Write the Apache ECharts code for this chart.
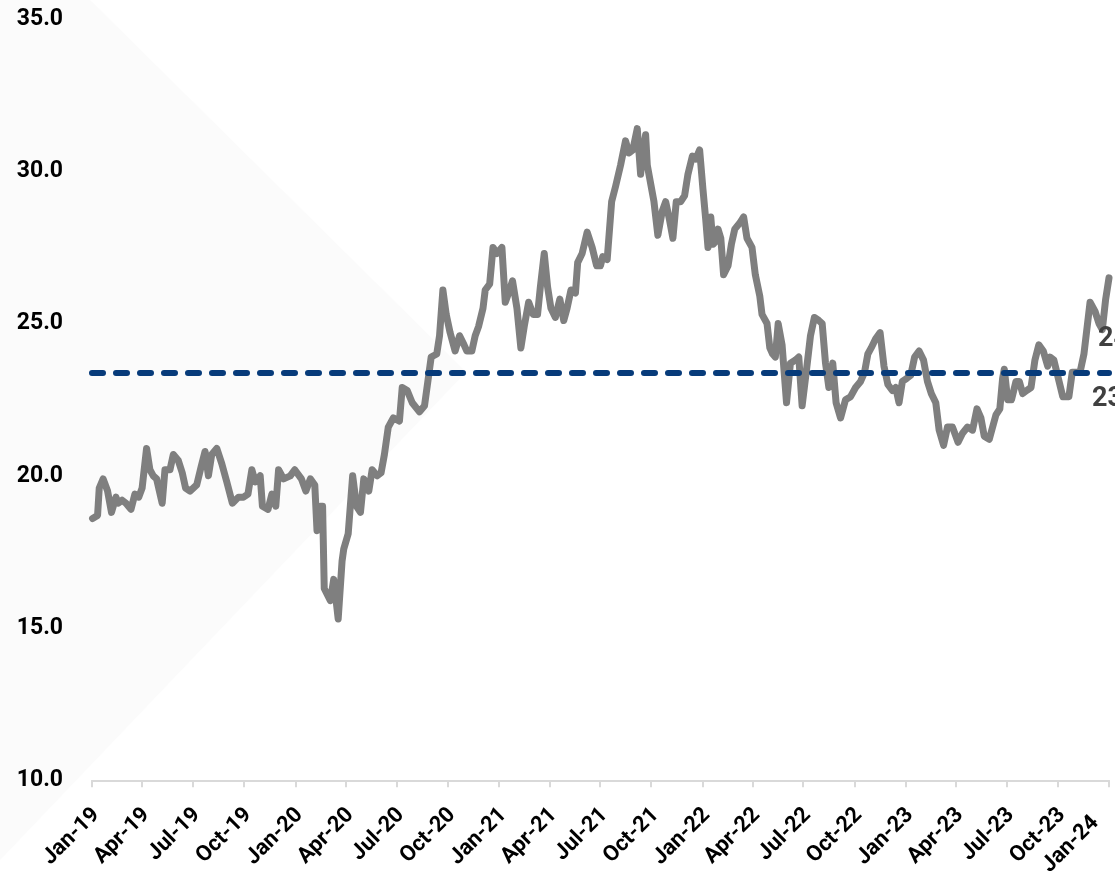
<!DOCTYPE html>
<html>
<head>
<meta charset="utf-8">
<script src="https://cdn.jsdelivr.net/npm/echarts@6/dist/echarts.min.js"></script>
<style>
  html, body { margin: 0; padding: 0; width: 1115px; height: 879px; background: #ffffff; overflow: hidden; }
  #chart { position: absolute; left: 0; top: 0; width: 1115px; height: 879px; }
</style>
</head>
<body>
<div id="chart"></div>
<script>
// Weekly valuation multiple, Jan 2019 – Jan 2024
const dates = [
  '2019-01-02','2019-01-11','2019-01-14','2019-01-21','2019-01-29','2019-02-05','2019-02-13','2019-02-17','2019-02-24',
  '2019-03-03','2019-03-12','2019-03-19','2019-03-26','2019-04-01','2019-04-09','2019-04-15','2019-04-21','2019-04-27',
  '2019-05-07','2019-05-12','2019-05-21','2019-05-27','2019-06-05','2019-06-12','2019-06-18','2019-06-26','2019-07-08',
  '2019-07-16','2019-07-23','2019-07-29','2019-08-04','2019-08-13','2019-08-22','2019-08-31','2019-09-10','2019-09-21',
  '2019-09-30','2019-10-08','2019-10-15','2019-10-21','2019-10-30','2019-11-03','2019-11-13','2019-11-20','2019-11-27',
  '2019-12-02','2019-12-11','2019-12-23','2019-12-31',
  '2020-01-12','2020-01-20','2020-01-28','2020-02-05','2020-02-09','2020-02-15','2020-02-19','2020-02-22','2020-03-04',
  '2020-03-10','2020-03-18','2020-03-25','2020-03-28','2020-04-05','2020-04-13','2020-04-20','2020-04-27','2020-05-03',
  '2020-05-12','2020-05-18','2020-05-27','2020-06-03','2020-06-09','2020-06-16','2020-06-25','2020-07-06','2020-07-11',
  '2020-07-20','2020-07-29','2020-08-11','2020-08-20','2020-08-26','2020-09-01','2020-09-11','2020-09-16','2020-09-22',
  '2020-09-28','2020-10-05','2020-10-14','2020-10-22','2020-10-30','2020-11-04','2020-11-13','2020-11-19','2020-11-25',
  '2020-12-03','2020-12-07','2020-12-15','2020-12-21','2020-12-28',
  '2021-01-06','2021-01-12','2021-01-18','2021-01-25','2021-02-02','2021-02-09','2021-02-15','2021-02-23','2021-03-03',
  '2021-03-11','2021-03-16','2021-03-23','2021-03-29','2021-04-04','2021-04-12','2021-04-20','2021-04-27','2021-05-03',
  '2021-05-10','2021-05-18','2021-05-22','2021-05-30','2021-06-08','2021-06-17','2021-06-25','2021-07-02','2021-07-06',
  '2021-07-14','2021-07-22','2021-07-29','2021-08-07','2021-08-16','2021-08-22','2021-08-29','2021-09-06','2021-09-12',
  '2021-09-16','2021-09-21','2021-09-24','2021-09-28','2021-10-06','2021-10-13','2021-10-21','2021-10-27','2021-11-03',
  '2021-11-09','2021-11-15','2021-11-23','2021-11-30','2021-12-06','2021-12-14','2021-12-20','2021-12-27',
  '2022-01-02','2022-01-07','2022-01-11','2022-01-16','2022-01-20','2022-01-25','2022-01-29','2022-02-03','2022-02-08',
  '2022-02-16','2022-02-22','2022-02-28','2022-03-09','2022-03-16','2022-03-22','2022-03-31','2022-04-06','2022-04-14',
  '2022-04-18','2022-04-27','2022-05-02','2022-05-07','2022-05-12','2022-05-17','2022-05-24','2022-06-01','2022-06-08',
  '2022-06-17','2022-06-23','2022-06-29','2022-07-07','2022-07-14','2022-07-21','2022-07-29','2022-08-04','2022-08-10',
  '2022-08-16','2022-08-23','2022-08-29','2022-09-06','2022-09-15','2022-09-24','2022-10-03','2022-10-12','2022-10-19',
  '2022-10-25','2022-10-31','2022-11-08','2022-11-16','2022-11-23','2022-11-30','2022-12-08','2022-12-14','2022-12-20',
  '2022-12-26',
  '2023-01-03','2023-01-10','2023-01-17','2023-01-25','2023-02-02','2023-02-09','2023-02-16','2023-02-24','2023-03-02',
  '2023-03-10','2023-03-17','2023-03-26','2023-04-05','2023-04-13','2023-04-22','2023-05-01','2023-05-09','2023-05-16',
  '2023-05-22','2023-05-31','2023-06-06','2023-06-12','2023-06-19','2023-06-24','2023-06-27','2023-07-03','2023-07-10',
  '2023-07-18','2023-07-24','2023-07-30','2023-08-06','2023-08-14','2023-08-21','2023-08-28','2023-09-05','2023-09-13',
  '2023-09-17','2023-09-24','2023-10-02','2023-10-10','2023-10-21','2023-10-27','2023-11-02','2023-11-10','2023-11-17',
  '2023-11-28','2023-12-07','2023-12-14','2023-12-20','2023-12-26','2024-01-01'
];

const values = [
  18.6,18.7,19.6,19.9,19.5,18.8,19.3,19.1,19.2,
  19.1,18.9,19.4,19.3,19.6,20.9,20.2,20.0,19.9,
  19.1,20.2,20.2,20.7,20.5,20.1,19.6,19.5,19.7,
  20.3,20.8,20.0,20.7,20.9,20.4,19.8,19.1,19.3,
  19.3,19.4,20.2,19.8,20.0,19.0,18.9,19.4,19.0,
  20.2,19.9,20.0,20.2,
  19.9,19.5,19.9,19.7,18.2,19.0,19.0,16.3,15.9,
  16.6,15.3,17.2,17.6,18.1,20.0,19.0,18.8,19.9,
  19.5,20.2,20.0,20.1,20.7,21.6,21.9,21.8,22.9,
  22.8,22.4,22.1,22.3,23.1,23.9,24.0,24.6,26.1,
  25.3,24.7,24.1,24.6,24.3,24.1,24.1,24.6,24.9,
  25.5,26.1,26.3,27.5,27.3,
  27.5,25.7,26.0,26.4,25.5,24.2,24.9,25.7,25.3,
  25.3,26.2,27.3,26.2,25.5,25.2,25.8,25.1,25.5,
  26.1,26.0,27.0,27.3,28.0,27.5,26.9,26.9,27.2,
  27.1,29.0,29.5,30.2,31.0,30.6,30.7,31.4,29.9,
  30.6,31.2,30.2,29.8,29.0,27.9,28.7,29.0,28.4,
  27.8,29.0,29.0,29.2,29.9,30.5,30.4,30.7,
  29.4,28.4,27.5,28.5,27.6,27.7,28.1,27.8,26.6,
  26.9,27.6,28.1,28.3,28.5,27.8,27.5,26.6,25.9,
  25.3,25.0,24.2,24.0,23.9,25.0,24.3,22.4,23.7,
  23.8,23.9,22.3,23.5,24.6,25.2,25.1,25.0,23.7,
  22.9,23.7,22.4,21.9,22.5,22.6,22.9,23.1,23.4,
  24.0,24.2,24.5,24.7,23.6,23.0,22.8,22.9,22.4,
  23.1,
  23.2,23.3,23.9,24.1,23.8,23.1,22.7,22.4,21.5,
  21.0,21.6,21.6,21.1,21.4,21.6,21.5,22.2,21.9,
  21.3,21.2,21.6,22.0,22.2,23.2,23.5,22.5,22.5,
  23.1,23.1,22.7,22.8,22.9,23.8,24.3,24.1,23.6,
  23.9,23.8,23.2,22.6,22.6,23.4,23.4,23.4,24.0,
  25.7,25.4,25.0,24.8,25.8,26.5
];

// Period average (dashed reference line) and the side note value
const averageValue = 23.4;
const noteValue = 24.5;

// Quarterly axis ticks
const tickDates = [
  '2019-01-01','2019-04-01','2019-07-01','2019-10-01',
  '2020-01-01','2020-04-01','2020-07-01','2020-10-01',
  '2021-01-01','2021-04-01','2021-07-01','2021-10-01',
  '2022-01-01','2022-04-01','2022-07-01','2022-10-01',
  '2023-01-01','2023-04-01','2023-07-01','2023-10-01',
  '2024-01-01'
];
const tickLabels = [
  'Jan-19','Apr-19','Jul-19','Oct-19',
  'Jan-20','Apr-20','Jul-20','Oct-20',
  'Jan-21','Apr-21','Jul-21','Oct-21',
  'Jan-22','Apr-22','Jul-22','Oct-22',
  'Jan-23','Apr-23','Jul-23','Oct-23',
  'Jan-24'
];

const yMin = 10, yMax = 35, yStep = 5;

// Dates are placed on a numeric (epoch ms) axis so quarter ticks can be set exactly
const toTime = s => {
  const [y, m, d] = s.split('-').map(Number);
  return Date.UTC(y, m - 1, d);
};
const tickTimes = tickDates.map(toTime);
const labelByTime = {};
tickTimes.forEach((t, i) => { labelByTime[t] = i; });
const lastTime = toTime(dates[dates.length - 1]);

const FONT = 'Roboto, "Liberation Sans", Arial, sans-serif';
const axisText = { fontFamily: FONT, fontWeight: 'bold', fontSize: 22, color: '#000000' };

const chart = echarts.init(document.getElementById('chart'), null, { renderer: 'canvas', width: 1115, height: 879 });

chart.setOption({
  animation: false,
  backgroundColor: '#ffffff',
  graphic: [
    {
      type: 'polygon',
      silent: true,
      z: -10,
      shape: { points: [[0, 0], [90, 0], [466, 372], [0, 860]] },
      style: { fill: '#fbfbfb' }
    }
  ],
  grid: { left: 92, top: 19, width: 1017, height: 771, containLabel: false },
  xAxis: {
    type: 'value',
    min: tickTimes[0],
    max: tickTimes[tickTimes.length - 1],
    axisLine: { show: true, onZero: false, lineStyle: { color: '#d9d9d9', width: 2 } },
    axisTick: {
      show: true,
      customValues: tickTimes,
      length: 7,
      lineStyle: { color: '#d9d9d9', width: 2 }
    },
    axisLabel: {
      customValues: tickTimes,
      rotate: 45,
      margin: 27,
      showMinLabel: true,
      showMaxLabel: true,
      formatter: value => {
        const i = labelByTime[value];
        if (i === undefined) return '';
        return (i === tickLabels.length - 1 ? '{last|' : '{tick|') + tickLabels[i] + '}';
      },
      rich: {
        tick: Object.assign({ padding: [12, 0, 0, 0] }, axisText),
        last: Object.assign({ padding: [0, 18, 2, 0] }, axisText)
      }
    },
    splitLine: { show: false }
  },
  yAxis: {
    type: 'value',
    min: yMin,
    max: yMax,
    interval: yStep,
    axisLine: { show: false },
    axisTick: { show: false },
    splitLine: { show: false },
    axisLabel: {
      margin: 29,
      fontFamily: FONT,
      fontWeight: 'bold',
      fontSize: 23,
      color: '#000000',
      formatter: v => v.toFixed(1)
    }
  },
  series: [
    {
      type: 'line',
      data: dates.map((d, i) => [toTime(d), values[i]]),
      showSymbol: false,
      symbol: 'none',
      smooth: false,
      z: 3,
      lineStyle: { color: '#7f7f7f', width: 7, cap: 'round', join: 'round' },
      markLine: {
        silent: true,
        symbol: ['none', 'none'],
        z: 4,
        label: { show: false },
        lineStyle: { color: '#073b7a', width: 6, type: [11, 13], cap: 'round' },
        data: [{ yAxis: averageValue }]
      },
      markPoint: {
        silent: true,
        symbol: 'circle',
        symbolSize: 0,
        itemStyle: { color: 'transparent' },
        label: {
          show: true,
          position: 'right',
          distance: 0,
          fontFamily: FONT,
          fontWeight: 'bold',
          fontSize: 27,
          color: '#404040',
          formatter: p => Number(p.value).toFixed(1)
        },
        data: [
          { coord: [lastTime, noteValue], value: noteValue, label: { offset: [-11, 0] } },
          { coord: [lastTime, averageValue], value: averageValue, label: { offset: [-17, 27] } }
        ]
      }
    }
  ]
});
</script>
</body>
</html>
